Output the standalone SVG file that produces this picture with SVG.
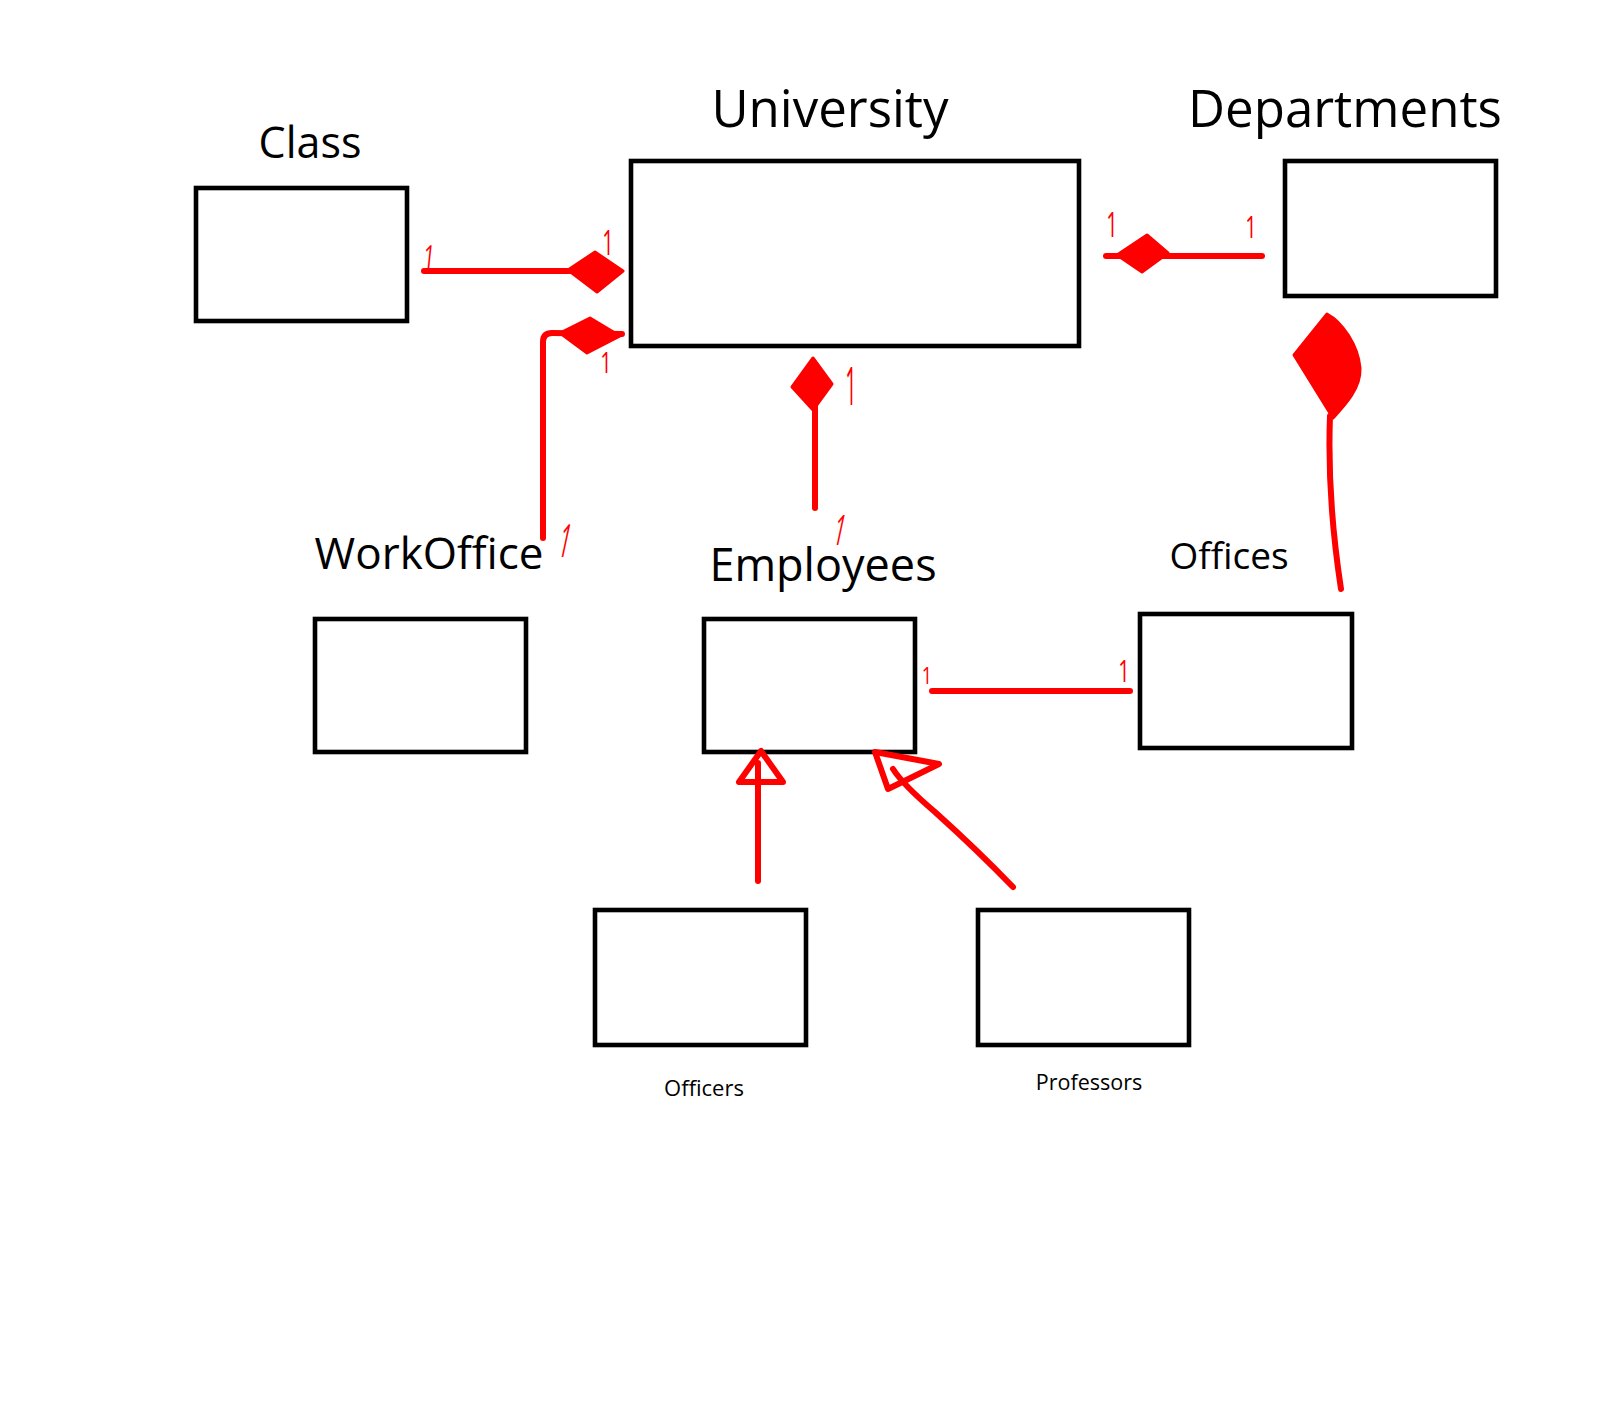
<svg xmlns="http://www.w3.org/2000/svg" width="1598" height="1410" viewBox="0 0 1598 1410">
<style>
.box{fill:#fff;stroke:#000;stroke-width:4.6}
.lbl{font-family:"Open Sans","Noto Sans",sans-serif;fill:#000;text-anchor:middle}
.ln{fill:none;stroke:#ff0000;stroke-width:6;stroke-linecap:round;stroke-linejoin:round}
.dia{fill:#ff0000;stroke:#ff0000;stroke-width:3;stroke-linejoin:round}
.tri{fill:none;stroke:#ff0000;stroke-width:6;stroke-linejoin:round}
.one{font-family:"Open Sans","Noto Sans",sans-serif;font-size:20px;fill:#ff0000;text-anchor:middle}
</style>
<rect width="1598" height="1410" fill="#fff"/>
<g id="class"><rect class="box" x="196" y="188" width="211" height="133"/><text class="lbl" x="310" y="158" font-size="43">Class</text></g>
<g id="university"><rect class="box" x="631" y="161" width="448" height="185"/><text class="lbl" x="830" y="127" font-size="51">University</text></g>
<g id="departments"><rect class="box" x="1285" y="161" width="211" height="135"/><text class="lbl" x="1345" y="127" font-size="51">Departments</text></g>
<g id="workoffice"><rect class="box" x="315" y="619" width="211" height="133"/><text class="lbl" x="429" y="569" font-size="44">WorkOffice</text></g>
<g id="employees"><rect class="box" x="704" y="619" width="211" height="133"/><text class="lbl" x="823" y="581" font-size="45">Employees</text></g>
<g id="offices"><rect class="box" x="1140" y="614" width="212" height="134"/><text class="lbl" x="1229" y="569" font-size="37">Offices</text></g>
<g id="officers"><rect class="box" x="595" y="910" width="211" height="135"/><text class="lbl" x="704" y="1096" font-size="22">Officers</text></g>
<g id="professors"><rect class="box" x="978" y="910" width="211" height="135"/><text class="lbl" x="1089" y="1090" font-size="21.5">Professors</text></g>
<g id="connectors">
<line class="ln" x1="424" y1="271" x2="572" y2="271"/>
<path class="dia" d="M568,270 L595,252 L623,271 L597,292 Z"/>
<path class="ln" d="M543,538 L543,342 Q543,333 552,333 L622,334"/>
<path class="dia" d="M560,333 L590,318 L620,336 L587,353 Z"/>
<line class="ln" x1="815" y1="508" x2="815" y2="400"/>
<path class="dia" d="M813,358 L832,384 L813,410 L792,387 Z"/>
<line class="ln" x1="1106" y1="256" x2="1262" y2="256"/>
<path class="dia" d="M1117,255 L1147,235 L1168,253 L1142,272 Z"/>
<path class="dia" d="M1327,314 C1342,322 1358,345 1360,368 C1361,388 1345,405 1333,418 L1294,355 Z"/>
<path class="ln" d="M1330,416 C1328,470 1332,530 1341,589"/>
<line class="ln" x1="932" y1="691" x2="1130" y2="691"/>
<line class="ln" x1="758" y1="881" x2="758" y2="763"/>
<path class="tri" d="M761,751 L739,782 L783,782 Z"/>
<path class="ln" d="M1013,887 C985,858 955,830 935,812 C915,795 900,780 893,769"/>
<path class="tri" d="M875,752 L888,789 L939,764 Z"/>
<text class="one" transform="translate(428,268) skewX(-6) scale(1,1.6)">1</text>
<text class="one" transform="translate(608,255) scale(1,1.75)">1</text>
<text class="one" transform="translate(606,373) scale(1,1.5)">1</text>
<text class="one" transform="translate(562,557) skewX(-12) scale(1,2.3)">1</text>
<text class="one" transform="translate(851,405) scale(1,2.65)">1</text>
<text class="one" transform="translate(837,545) skewX(-12) scale(1,2.1)">1</text>
<text class="one" transform="translate(1112,237) scale(1,1.75)">1</text>
<text class="one" transform="translate(1251,238) scale(1,1.55)">1</text>
<text class="one" transform="translate(927,684) scale(0.9,1.15)">1</text>
<text class="one" transform="translate(1124,682) scale(1,1.55)">1</text>
</g>
</svg>
